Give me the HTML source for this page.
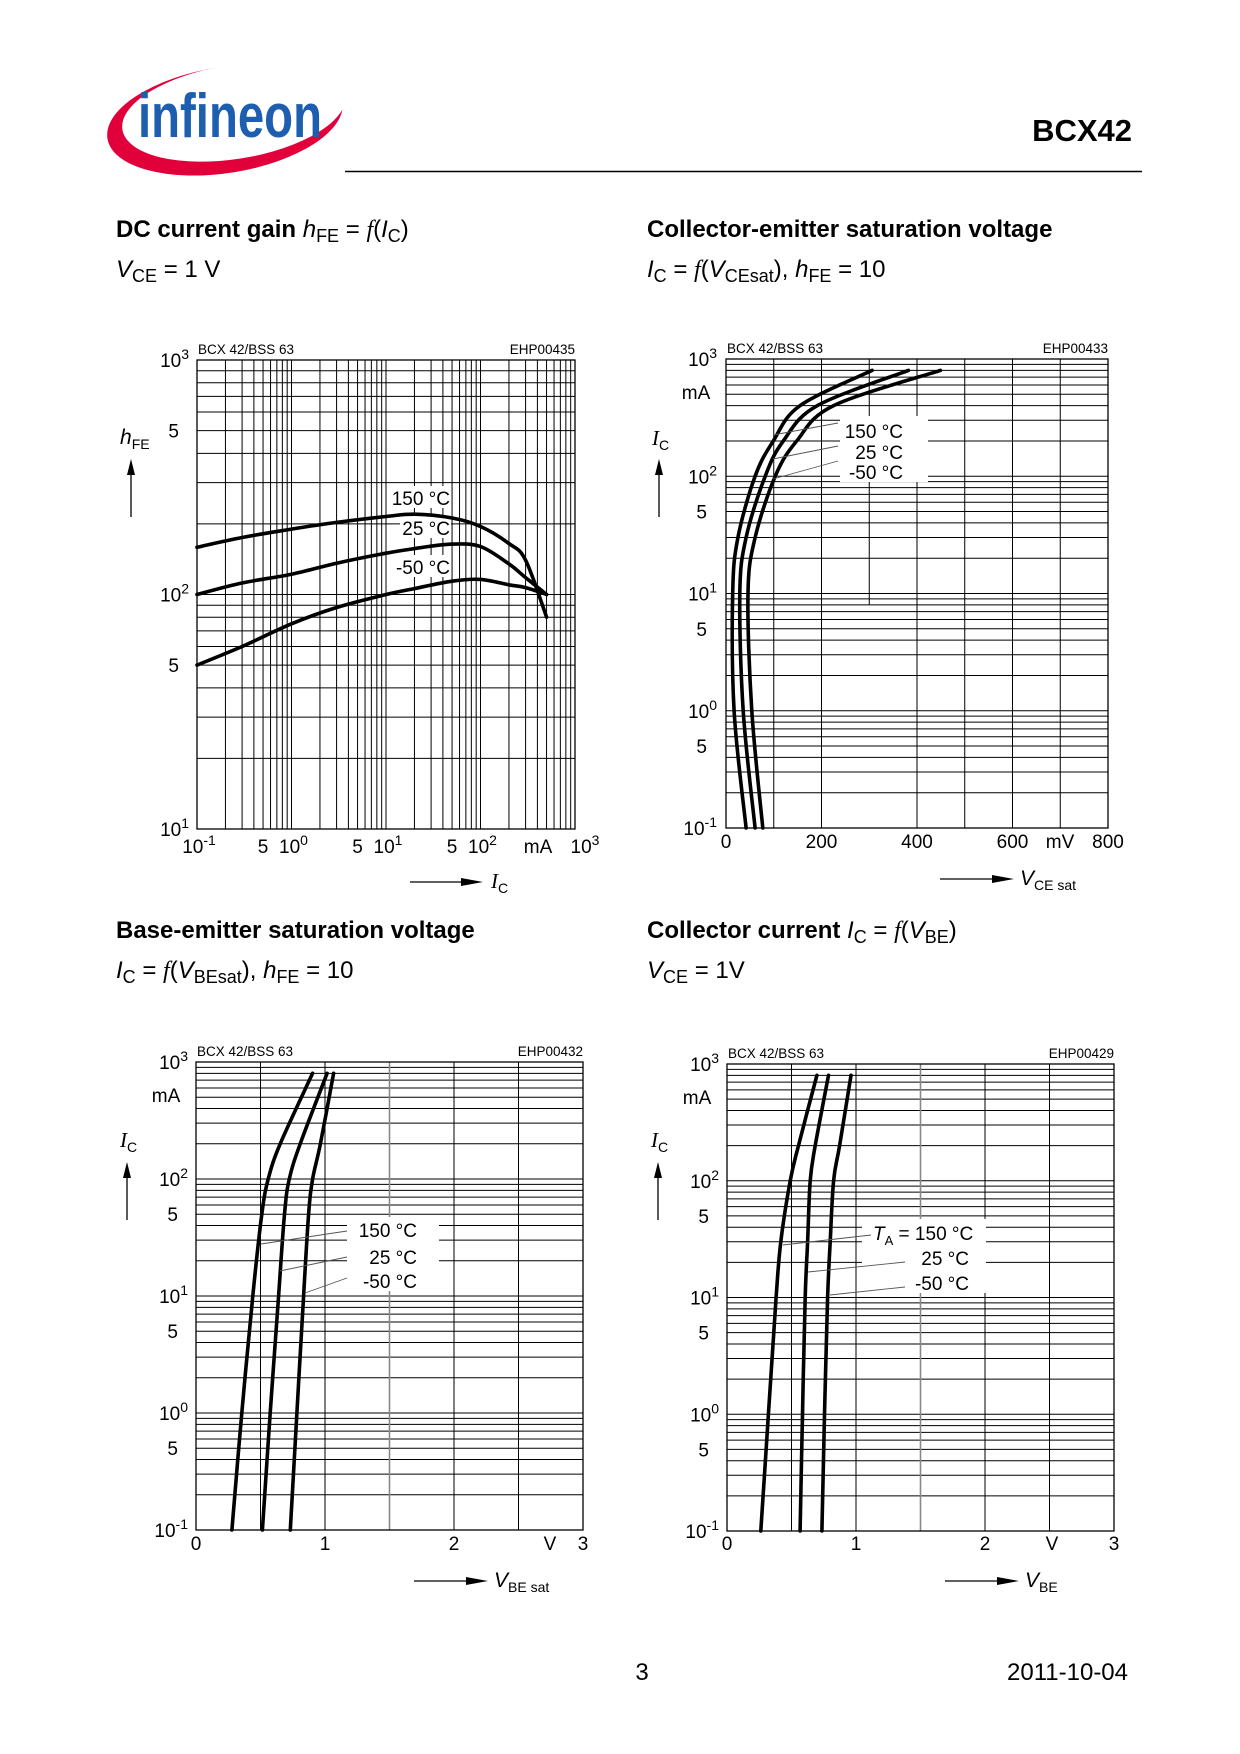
<!DOCTYPE html>
<html><head><meta charset="utf-8"><title>BCX42 characteristics</title>
<style>
html,body{margin:0;padding:0;background:#fff;}
svg{display:block;font-family:"Liberation Sans",Arial,sans-serif;}
</style></head>
<body>
<svg id="page" xmlns="http://www.w3.org/2000/svg" width="1240" height="1754" viewBox="0 0 1240 1754">
<rect x="0" y="0" width="1240" height="1754" fill="#fff"/>
<g>
  <ellipse cx="225" cy="120" rx="119" ry="53" fill="#e2003a" transform="rotate(-9 225 120)"/>
  <ellipse cx="234" cy="112" rx="113" ry="47" fill="#fff" transform="rotate(-9 234 112)"/>
  <text x="138" y="137" font-size="62" font-weight="bold" fill="#1d5fae" textLength="184" lengthAdjust="spacingAndGlyphs">infineon</text>
</g>
<text x="1132" y="141" font-size="31" font-weight="bold" text-anchor="end">BCX42</text>
<line x1="345" y1="171.5" x2="1142" y2="171.5" stroke="#000" stroke-width="1.5"/>

<g font-size="24">
  <text x="116" y="237" font-weight="bold">DC current gain <tspan font-style="italic" font-weight="normal">h</tspan><tspan font-weight="normal" font-size="18" dy="5">FE</tspan><tspan font-weight="normal" dy="-5"> =  </tspan><tspan font-family="Liberation Serif" font-style="italic" font-weight="normal">f</tspan><tspan font-weight="normal">(</tspan><tspan font-weight="normal" font-style="italic">I</tspan><tspan font-weight="normal" font-size="18" dy="5">C</tspan><tspan font-weight="normal" dy="-5">)</tspan></text>
  <text x="116" y="277"><tspan font-style="italic">V</tspan><tspan font-size="18" dy="5">CE</tspan><tspan dy="-5"> = 1 V</tspan></text>
</g>
<g font-size="24">
  <text x="647" y="237" font-weight="bold">Collector-emitter saturation voltage</text>
  <text x="647" y="277"><tspan font-style="italic">I</tspan><tspan font-size="18" dy="5">C</tspan><tspan dy="-5"> = </tspan><tspan font-family="Liberation Serif" font-style="italic">f</tspan>(<tspan font-style="italic">V</tspan><tspan font-size="18" dy="5">CEsat</tspan><tspan dy="-5">), </tspan><tspan font-style="italic">h</tspan><tspan font-size="18" dy="5">FE</tspan><tspan dy="-5"> = 10</tspan></text>
</g>
<g font-size="24">
  <text x="116" y="938" font-weight="bold">Base-emitter saturation voltage</text>
  <text x="116" y="978"><tspan font-style="italic">I</tspan><tspan font-size="18" dy="5">C</tspan><tspan dy="-5"> =  </tspan><tspan font-family="Liberation Serif" font-style="italic">f</tspan>(<tspan font-style="italic">V</tspan><tspan font-size="18" dy="5">BEsat</tspan><tspan dy="-5">), </tspan><tspan font-style="italic">h</tspan><tspan font-size="18" dy="5">FE</tspan><tspan dy="-5"> = 10</tspan></text>
</g>
<g font-size="24">
  <text x="647" y="938" font-weight="bold">Collector current <tspan font-style="italic" font-weight="normal">I</tspan><tspan font-weight="normal" font-size="18" dy="5">C</tspan><tspan font-weight="normal" dy="-5"> = </tspan><tspan font-family="Liberation Serif" font-style="italic" font-weight="normal">f</tspan><tspan font-weight="normal">(</tspan><tspan font-weight="normal" font-style="italic">V</tspan><tspan font-weight="normal" font-size="18" dy="5">BE</tspan><tspan font-weight="normal" dy="-5">)</tspan></text>
  <text x="647" y="978"><tspan font-style="italic">V</tspan><tspan font-size="18" dy="5">CE</tspan><tspan dy="-5"> = 1V</tspan></text>
</g>

<g id="chart1"></g>
<g id="chart2"></g>
<g id="chart3"></g>
<g id="chart4"></g>

<text x="642" y="1680" font-size="24" text-anchor="middle">3</text>
<text x="1128" y="1680" font-size="24" text-anchor="end">2011-10-04</text>
</svg>
<script>
// ---- Chart 1: hFE vs IC ----
const c1_I150 = [0.1, 0.3, 1, 3, 10, 20, 50, 100, 200, 300, 500];
const c1_h150 = [159, 175, 190, 203, 215, 220, 212, 195, 165, 140, 80];
const c1_I25 = [0.1, 0.3, 1, 3, 10, 20, 50, 100, 200, 300, 500];
const c1_h25 = [100, 112, 122, 136, 150, 157, 164, 160, 135, 118, 100];
const c1_Im50 = [0.1, 0.3, 1, 3, 10, 20, 50, 100, 200, 300, 500];
const c1_hm50 = [50, 60, 75, 88, 100, 106, 114, 116, 110, 107, 100];
const c1_xDecades = [-1, 0, 1, 2, 3];
const c1_yDecades = [1, 2, 3];
// ---- Chart 2: IC vs VCEsat ----
const c2_I = [0.1, 1, 10, 30, 100, 200, 400, 800];
const c2_v150 = [42, 17, 14, 25, 61, 99, 155, 306];
const c2_v25 = [61, 36, 29, 42, 82, 120, 191, 382];
const c2_vm50 = [77, 54, 46, 61, 103, 148, 225, 449];
const c2_xTicks = [0, 200, 400, 600, 800];
const c2_yDecades = [-1, 0, 1, 2, 3];
// ---- Chart 3: IC vs VBEsat ----
const c3_I = [0.1, 1, 10, 50, 100, 200, 800];
const c3_v150 = [0.278, 0.355, 0.44, 0.51, 0.56, 0.653, 0.904];
const c3_v25 = [0.515, 0.575, 0.64, 0.686, 0.723, 0.808, 1.016];
const c3_vm50 = [0.731, 0.782, 0.834, 0.873, 0.904, 0.964, 1.067];
const c3_xTicks = [0, 1, 2, 3];
const c3_yDecades = [-1, 0, 1, 2, 3];
// ---- Chart 4: IC vs VBE ----
const c4_I = [0.1, 1, 10, 30, 100, 200, 800];
const c4_v150 = [0.262, 0.321, 0.381, 0.417, 0.49, 0.554, 0.697];
const c4_v25 = [0.567, 0.585, 0.606, 0.625, 0.645, 0.684, 0.787];
const c4_vm50 = [0.736, 0.756, 0.780, 0.800, 0.826, 0.873, 0.961];
const c4_xTicks = [0, 1, 2, 3];
const c4_yDecades = [-1, 0, 1, 2, 3];

const NS = 'http://www.w3.org/2000/svg';
function mk(parent, tag, attrs, txt) {
  const e = document.createElementNS(NS, tag);
  for (const k in attrs) e.setAttribute(k, attrs[k]);
  if (txt !== undefined) e.textContent = txt;
  parent.appendChild(e);
  return e;
}
function logAxis(d0, d1, p0, p1) { return v => p0 + (Math.log10(v) - d0) / (d1 - d0) * (p1 - p0); }
function linAxis(v0, v1, p0, p1) { return v => p0 + (v - v0) / (v1 - v0) * (p1 - p0); }
function pathFrom(pts) {
  let d = 'M' + pts[0][0].toFixed(1) + ' ' + pts[0][1].toFixed(1);
  for (let i = 0; i < pts.length - 1; i++) {
    const p0 = pts[Math.max(0, i - 1)], p1 = pts[i], p2 = pts[i + 1], p3 = pts[Math.min(pts.length - 1, i + 2)];
    const c1 = [p1[0] + (p2[0] - p0[0]) / 6, p1[1] + (p2[1] - p0[1]) / 6];
    const c2 = [p2[0] - (p3[0] - p1[0]) / 6, p2[1] - (p3[1] - p1[1]) / 6];
    d += ' C' + c1[0].toFixed(1) + ' ' + c1[1].toFixed(1) + ' ' + c2[0].toFixed(1) + ' ' + c2[1].toFixed(1) + ' ' + p2[0].toFixed(1) + ' ' + p2[1].toFixed(1);
  }
  return d;
}
function hLogGrid(g, decs, ys, x0, x1) {
  for (let i = 0; i < decs.length - 1; i++) for (let k = 1; k <= 9; k++) {
    const y = ys(k * Math.pow(10, decs[i]));
    const l = mk(g, 'line', { x1: x0, x2: x1, y1: y, y2: y, stroke: '#000', 'stroke-width': 1 });
    
    
  }
}
function vLogGrid(g, decs, xs, y0, y1) {
  for (let i = 0; i < decs.length - 1; i++) for (let k = 1; k <= 9; k++) {
    const x = xs(k * Math.pow(10, decs[i]));
    const l = mk(g, 'line', { x1: x, x2: x, y1: y0, y2: y1, stroke: '#000', 'stroke-width': 1 });
    
    
  }
}
function frame(g, x0, y0, x1, y1, code) {
  const r = mk(g, 'rect', { x: x0, y: y0, width: x1 - x0, height: y1 - y0, fill: 'none', stroke: '#000', 'stroke-width': 1.3 });
  
  
  const t1 = mk(g, 'text', { x: x0 + 1, y: y0 - 6, 'font-size': 13.5 }, 'BCX 42/BSS 63');
  
  
  const t2 = mk(g, 'text', { x: x1, y: y0 - 6, 'font-size': 13.5, 'text-anchor': 'end' }, code);
  
  
}
function pow10(g, x, y, exp, anchor, name) {
  const t = mk(g, 'text', { x: x, y: y, 'font-size': 19, 'text-anchor': anchor });
  
  
  mk(t, 'tspan', {}, '10');
  mk(t, 'tspan', { 'font-size': 14, dy: -8 }, (exp < 0 ? '-' : '') + Math.abs(exp));
  return t;
}
function label(g, x, y, txt, size, anchor, name) {
  const t = mk(g, 'text', { x: x, y: y, 'font-size': size, 'text-anchor': anchor || 'start' }, txt);
  
  
  return t;
}
function curve(g, pts, name) {
  const p = mk(g, 'path', { d: pathFrom(pts), fill: 'none', stroke: '#000', 'stroke-width': 3.6, 'stroke-linecap': 'round' });
  
  
}
function yLogLabels(g, decs, ys, xr, skipTopFive) {
  decs.forEach((d, i) => {
    pow10(g, xr, ys(Math.pow(10, d)) + 7, d, 'end', 'y-tick-label');
    if (i < decs.length - 1 && !(skipTopFive && i === decs.length - 2)) label(g, xr - 10, ys(5 * Math.pow(10, d)) + 7, '5', 19, 'end', 'y-tick-label');
  });
}
function upArrow(g, x, yTop, yBot) {
  const l = mk(g, 'line', { x1: x, x2: x, y1: yTop + 10, y2: yBot, stroke: '#000', 'stroke-width': 1.3 });
  
  
  const p = mk(g, 'path', { d: `M${x - 4} ${yTop + 16} L${x} ${yTop} L${x + 4} ${yTop + 16} Z`, fill: '#000' });
  
  
}
function rightArrow(g, x0, x1, y) {
  const l = mk(g, 'line', { x1: x0, x2: x1 - 10, y1: y, y2: y, stroke: '#000', 'stroke-width': 1.3 });
  
  
  const p = mk(g, 'path', { d: `M${x1 - 22} ${y - 4} L${x1} ${y} L${x1 - 22} ${y + 4} Z`, fill: '#000' });
  
  
}
function subLabel(g, x, y, main, sub, name, italicSerif) {
  const t = mk(g, 'text', { x: x, y: y, 'font-size': 21 });
  
  
  mk(t, 'tspan', { 'font-style': 'italic', 'font-family': italicSerif ? 'Liberation Serif, serif' : 'Liberation Sans, sans-serif' }, main);
  mk(t, 'tspan', { 'font-size': 14, dy: 5 }, sub);
  return t;
}
function box(g, x, y, w, h) {
  const r = mk(g, 'rect', { x: x, y: y, width: w, height: h, fill: '#fff' });
  
  
}
function leader(g, x1, y1, x2, y2) {
  const l = mk(g, 'line', { x1: x1, y1: y1, x2: x2, y2: y2, stroke: '#555', 'stroke-width': 0.9 });
  
  
}

// ===== Chart 1 =====
(function () {
  const g = document.getElementById('chart1');
  const X0 = 197, X1 = 575, Y0 = 360, Y1 = 829;
  const xs = logAxis(-1, 3, X0, X1), ys = logAxis(1, 3, Y1, Y0);
  hLogGrid(g, c1_yDecades, ys, X0, X1);
  vLogGrid(g, c1_xDecades, xs, Y0, Y1);
  frame(g, X0, Y0, X1, Y1, 'EHP00435');
  yLogLabels(g, c1_yDecades, ys, 189, false);
  c1_xDecades.forEach((d, i) => {
    if (d === 3) pow10(g, xs(1000) + 10, 853, d, 'middle', 'x-tick-label');
    else pow10(g, xs(Math.pow(10, d)) + 2, 853, d, 'middle', 'x-tick-label');
    if (i > 0 && d < 3) label(g, xs(5 * Math.pow(10, d - 1)), 853, '5', 19, 'middle', 'x-tick-label');
  });
  label(g, 538, 853, 'mA', 19, 'middle', 'x-unit-label');
  box(g, 391, 486, 60, 22);
  box(g, 400, 516, 51, 22);
  box(g, 393, 555, 58, 22);
  curve(g, c1_I150.map((v, i) => [xs(v), ys(c1_h150[i])]), 'curve-150c');
  curve(g, c1_I25.map((v, i) => [xs(v), ys(c1_h25[i])]), 'curve-25c');
  curve(g, c1_Im50.map((v, i) => [xs(v), ys(c1_hm50[i])]), 'curve-minus50c');
  label(g, 450, 505, '150 °C', 19, 'end', 'legend-150c');
  label(g, 450, 535, '25 °C', 19, 'end', 'legend-25c');
  label(g, 450, 574, '-50 °C', 19, 'end', 'legend-minus50c');
  subLabel(g, 120, 444, 'h', 'FE', 'y-axis-title', false);
  upArrow(g, 131, 459, 517);
  rightArrow(g, 410, 483, 882);
  subLabel(g, 491, 888, 'I', 'C', 'x-axis-title', true);
})();

// ===== Chart 2 =====
(function () {
  const g = document.getElementById('chart2');
  const X0 = 726, X1 = 1108, Y0 = 359, Y1 = 828;
  const xs = linAxis(0, 800, X0, X1), ys = logAxis(-1, 3, Y1, Y0);
  hLogGrid(g, c2_yDecades, ys, X0, X1);
  for (let v = 100; v < 800; v += 100) {
    const l = mk(g, 'line', { x1: xs(v), x2: xs(v), y1: Y0, y2: v === 300 ? ys(8) : Y1, stroke: '#000', 'stroke-width': 1 });
    
    
  }
  box(g, 840, 416, 88, 66);
  frame(g, X0, Y0, X1, Y1, 'EHP00433');
  yLogLabels(g, c2_yDecades, ys, 717, true);
  label(g, 696, 399, 'mA', 19, 'middle', 'y-unit-label');
  c2_xTicks.forEach(v => label(g, xs(v), 848, String(v), 19, 'middle', 'x-tick-label'));
  label(g, 1060, 848, 'mV', 19, 'middle', 'x-unit-label');
  curve(g, c2_I.map((v, i) => [xs(c2_v150[i]), ys(v)]), 'curve-150c');
  curve(g, c2_I.map((v, i) => [xs(c2_v25[i]), ys(v)]), 'curve-25c');
  curve(g, c2_I.map((v, i) => [xs(c2_vm50[i]), ys(v)]), 'curve-minus50c');
  leader(g, 838, 423, 773, 435);
  leader(g, 838, 446, 773, 459);
  leader(g, 838, 461, 773, 479);
  label(g, 903, 438, '150 °C', 19, 'end', 'legend-150c');
  label(g, 903, 459, '25 °C', 19, 'end', 'legend-25c');
  label(g, 903, 479, '-50 °C', 19, 'end', 'legend-minus50c');
  subLabel(g, 652, 445, 'I', 'C', 'y-axis-title', true);
  upArrow(g, 659, 459, 517);
  rightArrow(g, 940, 1014, 879);
  subLabel(g, 1020, 885, 'V', 'CE sat', 'x-axis-title', false);
})();

// ===== Chart 3 / 4 helper =====
function vbChart(id, X0, X1, Y0, Y1, code, I, a, b, c, ticks, decs, boxR, legends, leaders, vX, xTitle) {
  const g = document.getElementById(id);
  const xs = linAxis(0, 3, X0, X1), ys = logAxis(-1, 3, Y1, Y0);
  hLogGrid(g, decs, ys, X0, X1);
  for (let v = 0.5; v < 3; v += 0.5) {
    const l = mk(g, 'line', { x1: xs(v), x2: xs(v), y1: Y0, y2: Y1, stroke: v === 1.5 ? '#888' : '#000', 'stroke-width': v === 1.5 ? 1.6 : 1 });
    
    
  }
  box(g, boxR[0], boxR[1], boxR[2], boxR[3]);
  frame(g, X0, Y0, X1, Y1, code);
  yLogLabels(g, decs, ys, X0 - 8, true);
  label(g, X0 - 30, Y0 + 40, 'mA', 19, 'middle', 'y-unit-label');
  ticks.forEach(v => label(g, xs(v), 1550, String(v), 19, 'middle', 'x-tick-label'));
  label(g, vX, 1550, 'V', 19, 'middle', 'x-unit-label');
  curve(g, I.map((v, i) => [xs(a[i]), ys(v)]), 'curve-150c');
  curve(g, I.map((v, i) => [xs(b[i]), ys(v)]), 'curve-25c');
  curve(g, I.map((v, i) => [xs(c[i]), ys(v)]), 'curve-minus50c');
  leaders.forEach(l => leader(g, l[0], l[1], l[2], l[3]));
  legends(g);
  subLabel(g, X0 - 76, 1147, 'I', 'C', 'y-axis-title', true);
  upArrow(g, X0 - 69, 1162, 1220);
  rightArrow(g, X0 + 218, X0 + 292, 1581);
  subLabel(g, X0 + 298, 1587, 'V', xTitle, 'x-axis-title', false);
}
vbChart('chart3', 196, 583, 1062, 1530, 'EHP00432', c3_I, c3_v150, c3_v25, c3_vm50, c3_xTicks, c3_yDecades,
  [347, 1217, 92, 74],
  g => {
    label(g, 417, 1237, '150 °C', 19, 'end', 'legend-150c');
    label(g, 417, 1264, '25 °C', 19, 'end', 'legend-25c');
    label(g, 417, 1288, '-50 °C', 19, 'end', 'legend-minus50c');
  },
  [[347, 1231, 261, 1244], [347, 1257, 280, 1271], [347, 1278, 305, 1293]], 550, 'BE sat');
vbChart('chart4', 727, 1114, 1064, 1531, 'EHP00429', c4_I, c4_v150, c4_v25, c4_vm50, c4_xTicks, c4_yDecades,
  [862, 1219, 124, 74],
  g => {
    const t = mk(g, 'text', { x: 873, y: 1240, 'font-size': 19 });
    
    
    mk(t, 'tspan', { 'font-style': 'italic' }, 'T');
    mk(t, 'tspan', { 'font-size': 13, dy: 5 }, 'A');
    mk(t, 'tspan', { dy: -5 }, ' = 150 °C');
    label(g, 969, 1265, '25 °C', 19, 'end', 'legend-25c');
    label(g, 969, 1290, '-50 °C', 19, 'end', 'legend-minus50c');
  },
  [[871, 1235, 783, 1245], [905, 1262, 808, 1272], [905, 1287, 830, 1295]], 1052, 'BE');
</script>
</body></html>
